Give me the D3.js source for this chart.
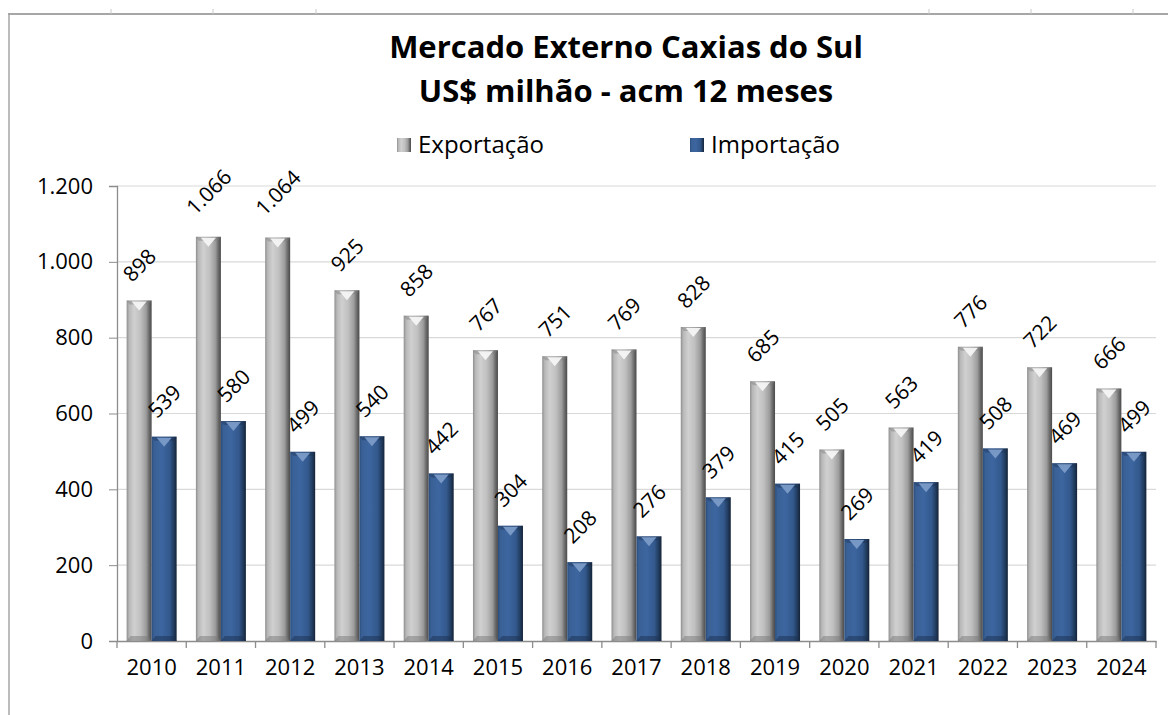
<!DOCTYPE html>
<html>
<head>
<meta charset="utf-8">
<title>Mercado Externo Caxias do Sul</title>
<script src="https://d3js.org/d3.v7.min.js"></script>
<style>
  body { margin: 0; background: #fff; }
  text { font-family: "Open Sans", "Noto Sans", sans-serif; fill: #000; }
</style>
</head>
<body>
<div id="chart"></div>
<script>
// data
var years = ["2010","2011","2012","2013","2014","2015","2016","2017","2018","2019","2020","2021","2022","2023","2024"]
var exportacao = [898, 1066, 1064, 925, 858, 767, 751, 769, 828, 685, 505, 563, 776, 722, 666]
var importacao = [539, 580, 499, 540, 442, 304, 208, 276, 379, 415, 269, 419, 508, 469, 499]
var yTicks = [0, 200, 400, 600, 800, 1000, 1200]
var seriesNames = ["Exportação", "Importação"]

var width = 1168, height = 715
var pLeft = 117, pRight = 1156, pTop = 186, pBottom = 641

var svg = d3.select("#chart").append("svg")
    .attr("width", width)
    .attr("height", height)

// gradients for the bevelled bars
var defs = svg.append("defs")
function grad(id, stops) {
    var g = defs.append("linearGradient").attr("id", id)
        .attr("x1", 0).attr("x2", 1).attr("y1", 0).attr("y2", 0)
    stops.forEach(function(s) {
        g.append("stop").attr("offset", s[0]).attr("stop-color", s[1])
    })
}
grad("gGray", [[0, "#8e8e8e"], [0.1, "#b8b8b8"], [0.3, "#d0d0d0"], [0.55, "#c0c0c0"], [0.78, "#9c9c9c"], [0.9, "#6a6a6a"], [1, "#4a4a4a"]])
grad("gBlue", [[0, "#2a4d7c"], [0.1, "#3a6196"], [0.4, "#3d66a0"], [0.72, "#33598d"], [0.88, "#223d60"], [1, "#142338"]])

// frame of the chart object
svg.append("line").attr("x1", 8).attr("x2", width).attr("y1", 14).attr("y2", 14)
    .attr("stroke", "#a6a6a6").attr("stroke-width", 2)
svg.append("line").attr("x1", 9).attr("x2", 9).attr("y1", 14).attr("y2", height)
    .attr("stroke", "#a6a6a6").attr("stroke-width", 1.5)
;[111, 213, 316, 929, 1031, 1133].forEach(function(x) {
    svg.append("line").attr("x1", x).attr("x2", x).attr("y1", 9).attr("y2", 14)
        .attr("stroke", "#c8c8c8").attr("stroke-width", 1)
})

// title
svg.append("text").attr("x", 626).attr("y", 58).attr("text-anchor", "middle")
    .style("font-size", "31px").style("font-weight", "bold")
    .text("Mercado Externo Caxias do Sul")
svg.append("text").attr("x", 626).attr("y", 102).attr("text-anchor", "middle")
    .style("font-size", "31px").style("font-weight", "bold")
    .text("US$ milhão - acm 12 meses")

// scales
var x = d3.scaleBand().domain(years).range([pLeft, pRight])
var inner = d3.scaleBand().domain(seriesNames)
    .range([(x.bandwidth() - 50) / 2, (x.bandwidth() + 50) / 2])
var y = d3.scaleLinear().domain([0, 1200]).range([pBottom, pTop])

// gridlines
svg.append("g").selectAll("line").data(yTicks.filter(function(d) { return d > 0 })).enter()
    .append("line")
    .attr("x1", pLeft).attr("x2", pRight)
    .attr("y1", function(d) { return y(d) }).attr("y2", function(d) { return y(d) })
    .attr("stroke", "#d9d9d9").attr("stroke-width", 1.2)

// y axis
var fmt = function(d) { return d3.format(",")(d).replace(/,/g, ".") }
var yAxis = svg.append("g").attr("transform", "translate(" + pLeft + ",0)")
    .call(d3.axisLeft(y).tickValues(yTicks).tickFormat(fmt).tickSize(8).tickPadding(16))
yAxis.select(".domain").attr("stroke", "#8c8c8c").attr("stroke-width", 1.3)
yAxis.selectAll(".tick line").attr("stroke", "#8c8c8c")
yAxis.selectAll("text").style("font-size", "22px").style("font-family", "Open Sans")

// x axis
var xAxis = svg.append("g").attr("transform", "translate(0," + pBottom + ")")
    .call(d3.axisBottom(x).tickSize(0).tickPadding(18))
xAxis.select(".domain").attr("stroke", "#8c8c8c").attr("stroke-width", 1.3)
xAxis.selectAll("text").style("font-size", "22px").style("font-family", "Open Sans")
svg.append("g").selectAll("line").data(years.concat(["end"])).enter()
    .append("line")
    .attr("x1", function(d, i) { return pLeft + i * x.bandwidth() })
    .attr("x2", function(d, i) { return pLeft + i * x.bandwidth() })
    .attr("y1", pBottom).attr("y2", pBottom + 7)
    .attr("stroke", "#8c8c8c").attr("stroke-width", 1.3)

// bars
var rows = []
years.forEach(function(yr, i) {
    rows.push({year: yr, s: seriesNames[0], v: exportacao[i], fill: "url(#gGray)", hi: "#f6f6f6", lo: "#7a7a7a"})
    rows.push({year: yr, s: seriesNames[1], v: importacao[i], fill: "url(#gBlue)", hi: "#7b9bc8", lo: "#1b3050"})
})
var bw = inner.bandwidth()
var bars = svg.append("g").selectAll("g").data(rows).enter().append("g")
    .attr("transform", function(d) { return "translate(" + (x(d.year) + inner(d.s)) + ",0)" })
bars.append("rect")
    .attr("x", 0).attr("width", bw)
    .attr("y", function(d) { return y(d.v) })
    .attr("height", function(d) { return pBottom - y(d.v) })
    .attr("fill", function(d) { return d.fill })
// top bevel
bars.append("path")
    .attr("d", function(d) {
        var t = y(d.v)
        return "M0," + t + "L" + bw + "," + t + "L" + (bw - 3) + "," + (t + 4) + "L3," + (t + 4) + "Z"
    })
    .attr("fill", function(d) { return d.lo }).attr("opacity", 0.4)
bars.append("path")
    .attr("d", function(d) {
        var t = y(d.v)
        return "M" + (bw * 0.2) + "," + (t + 1) + "L" + (bw * 0.8) + "," + (t + 1) + "L" + (bw / 2) + "," + (t + 10) + "Z"
    })
    .attr("fill", function(d) { return d.hi }).attr("opacity", 0.95)
// bottom bevel
bars.append("path")
    .attr("d", function(d) {
        return "M0," + pBottom + "L" + bw + "," + pBottom + "L" + (bw - 4) + "," + (pBottom - 5) + "L4," + (pBottom - 5) + "Z"
    })
    .attr("fill", function(d) { return d.lo }).attr("opacity", 0.5)

// rotated value labels
var labels = svg.append("g").selectAll("text").data(rows).enter().append("text")
    .style("font-size", "21px")
    .attr("text-anchor", "middle")
    .attr("dominant-baseline", "central")
    .text(function(d) { return fmt(d.v) })
labels.each(function(d) {
    var w = this.getComputedTextLength()
    var h = 15
    var box = (w + h) * Math.SQRT1_2
    var cx = x(d.year) + inner(d.s) + bw / 2
    var cy = y(d.v) - 8 - box * 0.77
    d3.select(this).attr("transform", "translate(" + cx + "," + cy + ") rotate(-45)")
})

// legend
var legend = [
    {name: seriesNames[0], fill: "url(#gGray)", x: 397},
    {name: seriesNames[1], fill: "url(#gBlue)", x: 690}
]
var lg = svg.append("g").selectAll("g").data(legend).enter().append("g")
    .attr("transform", function(d) { return "translate(" + d.x + ",138)" })
lg.append("rect").attr("width", 14).attr("height", 14).attr("fill", function(d) { return d.fill })
lg.append("text").attr("x", 21).attr("y", 15).style("font-size", "24px").text(function(d) { return d.name })
</script>
</body>
</html>
